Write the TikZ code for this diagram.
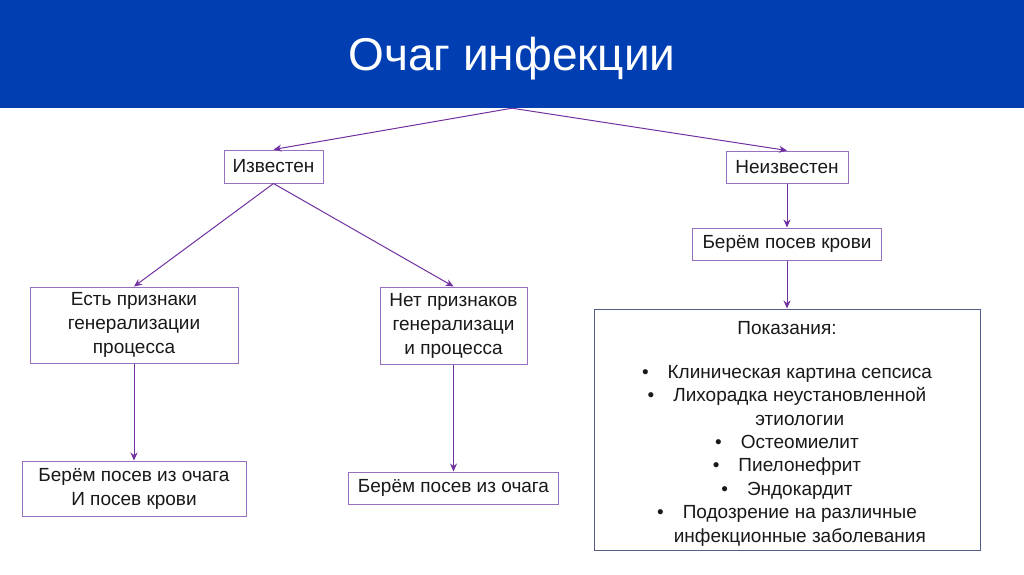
\documentclass[tikz,border=0pt]{standalone}
\usepackage{fontspec}
\setmainfont{Liberation Sans}
\usetikzlibrary{arrows.meta}
\definecolor{headblue}{RGB}{0,62,178}
\definecolor{linkpurple}{RGB}{112,48,160}
\definecolor{boxpurple}{RGB}{152,112,192}
\definecolor{framegrey}{RGB}{82,92,132}
\newcommand{\bt}{\textbullet\hspace{1em}}
\newcommand{\nobt}{\hphantom{\textbullet\hspace{1em}}}
\tikzset{
  stepbox/.style={draw=boxpurple,line width=1pt,fill=white,inner sep=0pt,
    align=center,text=black!90,font=\fontsize{19}{24}\selectfont},
  listbox/.style={stepbox,draw=framegrey,font=\fontsize{19}{23.4}\selectfont},
  link/.style={linkpurple,line width=1pt,-{Stealth[length=8pt,width=7pt]}},
}

\begin{document}
\begin{tikzpicture}[x=1pt,y=-1pt]
\useasboundingbox (0,0) rectangle (1024,574);

%% ---------------- header band ----------------
\node[fill=headblue,text=white,minimum width=1024pt,minimum height=108pt,
  inner sep=0pt,text depth=0pt,font=\fontsize{46}{52}\selectfont] (head) at (512,54) {Очаг инфекции};

%% ---------------- first level ----------------
\node[stepbox,minimum width=99pt,minimum height=33pt]  (known)   at (273.5,166.5) {Известен};
\node[stepbox,minimum width=122pt,minimum height=32pt] (unknown) at (787,167)     {Неизвестен};

%% ---------------- left branch ----------------
\node[stepbox,minimum width=208pt,minimum height=76pt] (signs)   at (134,325)
  {Есть признаки\\генерализации\\процесса};
\node[stepbox,minimum width=147pt,minimum height=77pt] (nosigns) at (453.5,325.5)
  {Нет признаков\\генерализаци\\и процесса};
\node[stepbox,minimum width=224pt,minimum height=55pt] (bothcult)  at (134,488.5)
  {Берём посев из очага\\И посев крови};
\node[stepbox,minimum width=210pt,minimum height=32pt] (focuscult) at (453.5,488)
  {Берём посев из очага};

%% ---------------- right branch ----------------
\node[stepbox,minimum width=189pt,minimum height=32pt] (bloodcult) at (787,244)
  {Берём посев крови};
\node[listbox,minimum width=386pt,minimum height=241pt] (indic) at (787,429.5)
  {\rule{0pt}{22pt}Показания:\\[20pt]
   \bt Клиническая картина сепсиса\\
   \bt Лихорадка неустановленной\\
   \nobt этиологии\\
   \bt Остеомиелит\\
   \bt Пиелонефрит\\
   \bt Эндокардит\\
   \bt Подозрение на различные\\
   \nobt инфекционные заболевания};

%% ---------------- connectors ----------------
\draw[link] (head.south) -- (known.north);
\draw[link] (head.south) -- (unknown.north);
\draw[link] (known.south) -- (signs.north);
\draw[link] (known.south) -- (nosigns.north);
\draw[link] (signs.south) -- (bothcult.north);
\draw[link] (nosigns.south) -- (focuscult.north);
\draw[link] (unknown.south) -- (bloodcult.north);
\draw[link] (bloodcult.south) -- (indic.north);

\end{tikzpicture}
\end{document}
